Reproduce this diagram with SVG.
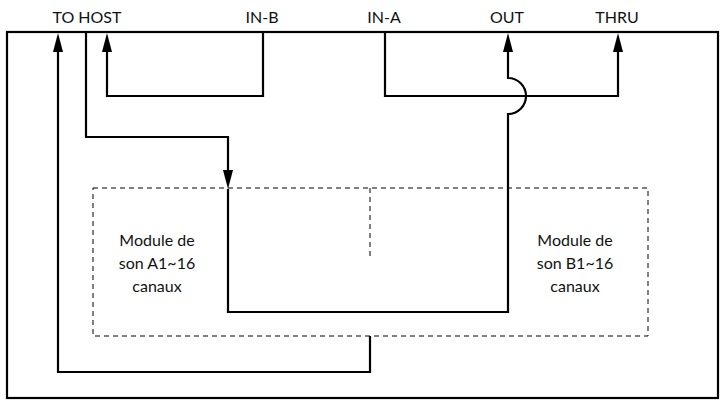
<svg xmlns="http://www.w3.org/2000/svg" width="720" height="404" viewBox="0 0 720 404">
<style>
text{font-family:Lato,"Open Sans",sans-serif;font-size:16px;fill:#111;text-anchor:middle}
.w{fill:none;stroke:#000;stroke-width:2.2}
.d{fill:none;stroke:#000;stroke-width:1;stroke-dasharray:5,4}
.h{fill:#000;stroke:none}
</style>
<g id="frame"><rect x="7" y="32" width="711" height="366" class="w"/></g>
<g id="labels">
<text x="87" y="23">TO HOST</text><text x="262" y="23">IN-B</text><text x="384" y="23">IN-A</text><text x="507" y="23">OUT</text><text x="617" y="23">THRU</text>
</g>
<g id="modules"><rect x="93" y="188" width="555" height="148" class="d"/><line x1="370" y1="188" x2="370" y2="260" class="d"/>
<text x="157" y="246">Module de</text><text x="157" y="269">son A1~16</text><text x="157" y="292">canaux</text>
<text x="575" y="246">Module de</text><text x="575" y="269">son B1~16</text><text x="575" y="292">canaux</text></g>
<g id="connectors" fill="none" stroke="#000" stroke-width="2.2">
<path d="M370,336V372H58V50"/><polygon points="58,33 53,52 63,52" class="h"/>
<path d="M86,32V137H228V172"/><polygon points="228,189 223,170 233,170" class="h"/>
<path d="M228,189V312H508V114A18,18 0 0 0 508,78V50"/><polygon points="508,33 503,52 513,52" class="h"/>
<path d="M263,32V96H107V50"/><polygon points="107,33 102,52 112,52" class="h"/>
<path d="M385,32V96H618V50"/><polygon points="618,33 613,52 623,52" class="h"/>
</g>
</svg>
